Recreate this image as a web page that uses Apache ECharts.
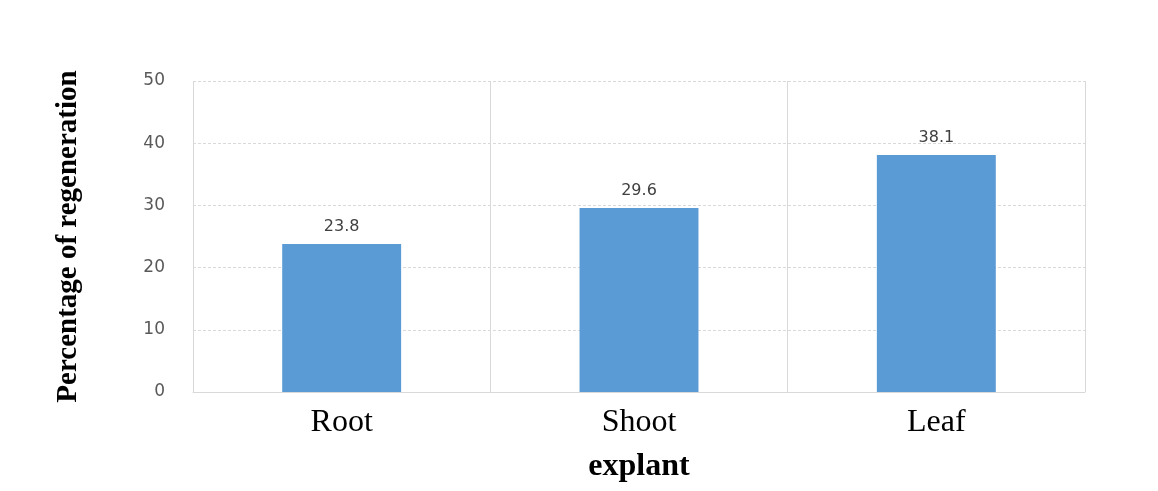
<!DOCTYPE html>
<html>
<head>
<meta charset="utf-8">
<script src="https://cdn.jsdelivr.net/npm/echarts@6/dist/echarts.min.js"></script>
<style>html,body{margin:0;padding:0;background:#fff}#c{width:1158px;height:491px}</style>
</head>
<body>
<div id="c"></div>
<script>
const categories = ['Root', 'Shoot', 'Leaf'];
const values = [23.8, 29.6, 38.1];
const yTicks = [0, 10, 20, 30, 40, 50];

const chart = echarts.init(document.getElementById('c'));
chart.setOption({
  animation: false,
  grid: { left: 193, right: 73, top: 81, bottom: 99, containLabel: false, outerBoundsMode: 'none' },
  xAxis: {
    type: 'category',
    data: categories,
    name: 'explant',
    nameLocation: 'middle',
    nameGap: 59,
    nameTextStyle: { fontFamily: 'Liberation Serif', fontWeight: 'bold', fontSize: 32, color: '#000' },
    axisLine: { show: true, lineStyle: { color: '#d9d9d9', width: 1 } },
    axisTick: { show: false },
    axisLabel: { fontFamily: 'Liberation Serif', fontSize: 32, color: '#000', margin: 15 },
    splitLine: { show: true, lineStyle: { color: '#d9d9d9', width: 1, type: 'solid' } }
  },
  yAxis: {
    type: 'value',
    min: yTicks[0],
    max: yTicks[yTicks.length - 1],
    interval: 10,
    name: 'Percentage of regeneration',
    nameLocation: 'middle',
    nameGap: 110,
    nameTextStyle: { fontFamily: 'Liberation Serif', fontWeight: 'bold', fontSize: 29, color: '#000' },
    axisLine: { show: false },
    axisTick: { show: false },
    axisLabel: { fontFamily: 'DejaVu Sans', fontSize: 17, color: '#595959', margin: 28 },
    splitLine: { show: true, lineStyle: { color: '#d9d9d9', width: 1, type: [3, 2] } }
  },
  series: [{
    type: 'bar',
    data: values,
    barWidth: '40%',
    itemStyle: { color: '#5B9BD5' },
    label: { show: true, position: 'top', distance: 9, fontFamily: 'DejaVu Sans', fontSize: 16, color: '#404040' }
  }]
});
</script>
</body>
</html>
